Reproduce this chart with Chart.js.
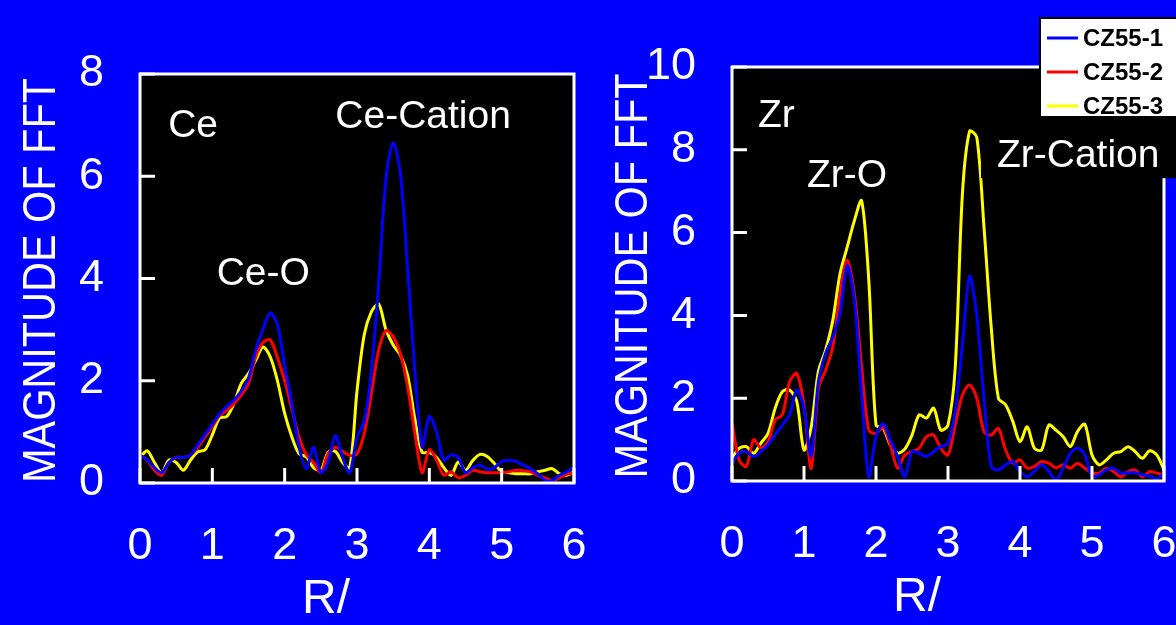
<!DOCTYPE html>
<html>
<head>
<meta charset="utf-8">
<title>FFT magnitude - Ce and Zr edges</title>
<script src="https://cdn.jsdelivr.net/npm/chart.js@4.4.1/dist/chart.umd.min.js"></script>
<style>
  html, body { margin: 0; padding: 0; background: #0000ff; }
  #wrap { position: relative; width: 1176px; height: 625px; overflow: hidden; }
  canvas { position: absolute; top: 0; }
  #ceChart { left: 0; }
  #zrChart { left: 588px; }
</style>
</head>
<body>
<div id="wrap">
  <canvas id="ceChart" width="588" height="625"></canvas>
  <canvas id="zrChart" width="588" height="625"></canvas>
</div>
<script>
// R grid shared by every curve
const R = [0, 0.1, 0.2, 0.3, 0.4, 0.5, 0.6, 0.7, 0.8, 0.9,
           1, 1.1, 1.2, 1.3, 1.4, 1.5, 1.6, 1.7, 1.8, 1.9,
           2, 2.1, 2.2, 2.3, 2.4, 2.5, 2.6, 2.7, 2.8, 2.9,
           3, 3.1, 3.2, 3.3, 3.4, 3.5, 3.6, 3.7, 3.8, 3.9,
           4, 4.1, 4.2, 4.3, 4.4, 4.5, 4.6, 4.7, 4.8, 4.9,
           5, 5.1, 5.2, 5.3, 5.4, 5.5, 5.6, 5.7, 5.8, 5.9, 6];

const sampleNames = ['CZ55-1', 'CZ55-2', 'CZ55-3'];
const sampleColors = ['#0000ff', '#ff0000', '#ffff00'];

// Ce edge
const ce1 = [0.55, 0.45, 0.3, 0.2, 0.4, 0.5, 0.5, 0.55, 0.75, 0.95,
             1.15, 1.35, 1.5, 1.62, 1.8, 2.05, 2.6, 3.0, 3.33, 3.1,
             2.3, 1.55, 0.7, 0.28, 0.7, 0.2, 0.4, 0.93, 0.5, 0.2,
             0.9, 1.2, 2.2, 3.9, 5.95, 6.65, 6.05, 4.2, 2.2, 0.7,
             1.3, 1.0, 0.45, 0.55, 0.5, 0.2, 0.3, 0.35, 0.27, 0.3,
             0.42, 0.44, 0.42, 0.35, 0.28, 0.18, 0.05, 0.05, 0.15, 0.22, 0.31];
const ce2 = [0.55, 0.44, 0.25, 0.15, 0.4, 0.5, 0.5, 0.55, 0.7, 0.9,
             1.1, 1.32, 1.42, 1.55, 1.72, 1.94, 2.47, 2.75, 2.8, 2.45,
             2.0, 1.45, 0.9, 0.55, 0.4, 0.2, 0.57, 0.7, 0.62, 0.54,
             0.57, 0.97, 1.75, 2.6, 2.98, 2.86, 2.53, 1.88, 0.97, 0.2,
             0.65, 0.45, 0.15, 0.22, 0.1, 0.15, 0.25, 0.22, 0.2, 0.2,
             0.2, 0.22, 0.25, 0.24, 0.22, 0.15, 0.1, 0.05, 0.1, 0.17, 0.2];
const ce3 = [0.5, 0.63, 0.4, 0.2, 0.45, 0.4, 0.25, 0.45, 0.61, 0.65,
             0.94, 1.27, 1.3, 1.56, 1.95, 2.14, 2.4, 2.66, 2.47, 2.0,
             1.36, 0.9, 0.57, 0.51, 0.3, 0.25, 0.6, 0.62, 0.4, 0.3,
             1.8, 2.9, 3.35, 3.5, 3.0, 2.7, 2.5, 2.1, 1.25, 0.6,
             0.6, 0.5, 0.3, 0.15, 0.41, 0.25, 0.44, 0.56, 0.52, 0.38,
             0.22, 0.2, 0.18, 0.18, 0.18, 0.22, 0.25, 0.28, 0.18, 0.15, 0.22];

// Zr edge
const zr1 = [0.43, 0.67, 0.71, 0.59, 0.71, 0.87, 1.11, 1.35, 1.6, 2.2,
             1.75, 0.6, 2.4, 3.08, 3.48, 4.04, 5.2, 4.36, 2.11, 0.1,
             1.07, 1.39, 0.99, 0.59, 0.1, 0.71, 0.67, 0.59, 0.71, 0.83,
             0.91, 1.71, 3.3, 4.95, 4.0, 2.0, 0.35, 0.27, 0.39, 0.47,
             0.23, 0.1, 0.23, 0.39, 0.23, 0.02, 0.31, 0.67, 0.79, 0.63,
             0.1, 0.15, 0.27, 0.31, 0.19, 0.2, 0.2, 0.15, 0.12, 0.05, 0.19];
const zr2 = [1.4, 0.5, 0.35, 1.0, 0.8, 0.95, 1.48, 1.6, 2.4, 2.6,
             1.84, 0.3, 2.24, 2.67, 3.24, 4.52, 5.34, 4.52, 2.76, 1.23,
             1.15, 1.3, 0.87, 0.31, 0.63, 0.71, 0.79, 1.07, 1.11, 0.79,
             0.63, 1.35, 2.08, 2.32, 2.0, 1.19, 1.11, 1.27, 0.75, 0.43,
             0.51, 0.31, 0.35, 0.47, 0.43, 0.32, 0.39, 0.31, 0.43, 0.31,
             0.2, 0.19, 0.31, 0.23, 0.1, 0.23, 0.27, 0.1, 0.23, 0.19, 0.15];
const zr3 = [0.55, 0.79, 0.83, 0.67, 0.91, 1.15, 1.76, 2.16, 2.2, 1.92,
             0.75, 1.3, 2.65, 3.16, 3.88, 5.0, 5.65, 6.29, 6.77, 4.84,
             1.35, 1.27, 0.87, 0.67, 0.77, 1.11, 1.6, 1.52, 1.76, 1.23,
             1.35, 2.73, 6.93, 8.45, 8.3, 6.13, 3.72, 2.0, 1.84, 1.44,
             0.95, 1.31, 0.79, 0.75, 1.35, 1.23, 1.07, 0.83, 1.2, 1.37,
             0.63, 0.39, 0.51, 0.67, 0.71, 0.83, 0.71, 0.55, 0.73, 0.63, 0.27];

const ceNotes = [
  { text: 'Ce', r: 0.39, v: 6.77 },
  { text: 'Ce-Cation', r: 2.70, v: 6.94 },
  { text: 'Ce-O', r: 1.06, v: 3.87 }
];
const zrNotes = [
  { text: 'Zr', r: 0.36, v: 8.55 },
  { text: 'Zr-O', r: 1.04, v: 7.10 },
  { text: 'Zr-Cation', r: 3.68, v: 7.58, boxed: true }
];

const FONT = '"Liberation Sans", Arial, Helvetica, sans-serif';

function curve(i, values) {
  return {
    label: sampleNames[i],
    borderColor: sampleColors[i],
    borderWidth: 3,
    pointRadius: 0,
    tension: 0.3,
    fill: false,
    data: R.map((r, k) => ({ x: r, y: values[k] }))
  };
}

// black plot box, white frame, inward ticks, peak names and axis captions
const framePlugin = {
  id: 'frame',
  beforeDatasetsDraw(chart) {
    const { ctx, chartArea: a } = chart;
    ctx.save();
    ctx.fillStyle = '#000';
    ctx.fillRect(a.left, a.top, a.right - a.left, a.bottom - a.top);
    ctx.restore();
  },
  afterDatasetsDraw(chart, args, opts) {
    const { ctx, chartArea: a, scales: { x, y } } = chart;
    ctx.save();
    ctx.strokeStyle = '#fff';
    ctx.lineWidth = 3;
    ctx.strokeRect(a.left, a.top, a.right - a.left, a.bottom - a.top);
    ctx.beginPath();
    x.ticks.forEach(t => {
      const px = x.getPixelForValue(t.value);
      ctx.moveTo(px, a.bottom);
      ctx.lineTo(px, a.bottom - 15);
    });
    y.ticks.forEach(t => {
      const py = y.getPixelForValue(t.value);
      ctx.moveTo(a.left, py);
      ctx.lineTo(a.left + 15, py);
    });
    ctx.stroke();

    ctx.font = '39px ' + FONT;
    ctx.textAlign = 'left';
    ctx.textBaseline = 'alphabetic';
    (opts.notes || []).forEach(n => {
      const px = x.getPixelForValue(n.r);
      const py = y.getPixelForValue(n.v);
      if (n.boxed) {
        ctx.fillStyle = '#000';
        ctx.fillRect(px - 16, py - 50, chart.width - px + 16, 61);
      }
      ctx.fillStyle = '#fff';
      ctx.fillText(n.text, px, py);
    });

    // x caption sits a little left of centre
    ctx.font = '48px ' + FONT;
    ctx.textAlign = 'center';
    ctx.fillText('R/', (a.left + a.right) / 2 - 31, a.bottom + 130);

    // y caption, squeezed to the height of the plot
    ctx.translate(a.left - 98, (a.top + a.bottom) / 2 + 2);
    ctx.rotate(-Math.PI / 2);
    ctx.font = '47px ' + FONT;
    ctx.textBaseline = 'middle';
    ctx.fillText('MAGNITUDE OF FFT', 0, 0, 405);
    ctx.restore();
  }
};

// sample key in the top right corner
const keyPlugin = {
  id: 'sampleKey',
  afterDraw(chart, args, opts) {
    const { ctx } = chart;
    const left = opts.left, top = opts.top, h = opts.height;
    ctx.save();
    ctx.fillStyle = '#fff';
    ctx.fillRect(left, top, chart.width - left + 4, h);
    ctx.strokeStyle = '#000';
    ctx.lineWidth = 2;
    ctx.strokeRect(left, top, chart.width - left + 4, h);
    ctx.font = 'bold 24px ' + FONT;
    ctx.textAlign = 'left';
    ctx.textBaseline = 'middle';
    chart.data.datasets.forEach((ds, i) => {
      const cy = top + 20 + i * 34;
      ctx.strokeStyle = ds.borderColor;
      ctx.lineWidth = 3;
      ctx.beginPath();
      ctx.moveTo(left + 7, cy);
      ctx.lineTo(left + 38, cy);
      ctx.stroke();
      ctx.fillStyle = '#000';
      ctx.fillText(ds.label, left + 43, cy + 1.5);
    });
    ctx.restore();
  }
};

function makeChart(id, sets, yMax, pad, yWidth, xHeight, notes, extra) {
  return new Chart(document.getElementById(id), {
    type: 'line',
    data: { datasets: sets },
    plugins: extra ? [framePlugin, extra] : [framePlugin],
    options: {
      responsive: false,
      animation: false,
      layout: { padding: pad },
      plugins: {
        legend: { display: false },
        tooltip: { enabled: false },
        frame: { notes: notes },
        sampleKey: { left: 452, top: 18, height: 99 }
      },
      scales: {
        x: {
          type: 'linear',
          min: 0,
          max: 6,
          grid: { display: false, drawTicks: false },
          border: { display: false },
          ticks: {
            stepSize: 1,
            color: '#fff',
            font: { family: FONT, size: 45 },
            padding: 37,
            maxRotation: 0,
            autoSkip: false
          },
          afterFit: s => {
            s.height = xHeight;
            s.paddingLeft = 0;
            s.paddingRight = 0;
          }
        },
        y: {
          min: 0,
          max: yMax,
          grid: { display: false, drawTicks: false },
          border: { display: false },
          ticks: {
            stepSize: 2,
            color: '#fff',
            font: { family: FONT, size: 45 },
            padding: 36
          },
          afterFit: s => {
            s.width = yWidth;
            s.paddingTop = 0;
            s.paddingBottom = 0;
          }
        }
      }
    }
  });
}

makeChart('ceChart', [curve(0, ce1), curve(1, ce2), curve(2, ce3)], 8,
  { top: 74, right: 14, left: 0, bottom: 0 }, 140, 142, ceNotes, null);
makeChart('zrChart', [curve(0, zr1), curve(1, zr2), curve(2, zr3)], 10,
  { top: 67, right: 12, left: 0, bottom: 0 }, 144, 144, zrNotes, keyPlugin);
</script>
</body>
</html>
